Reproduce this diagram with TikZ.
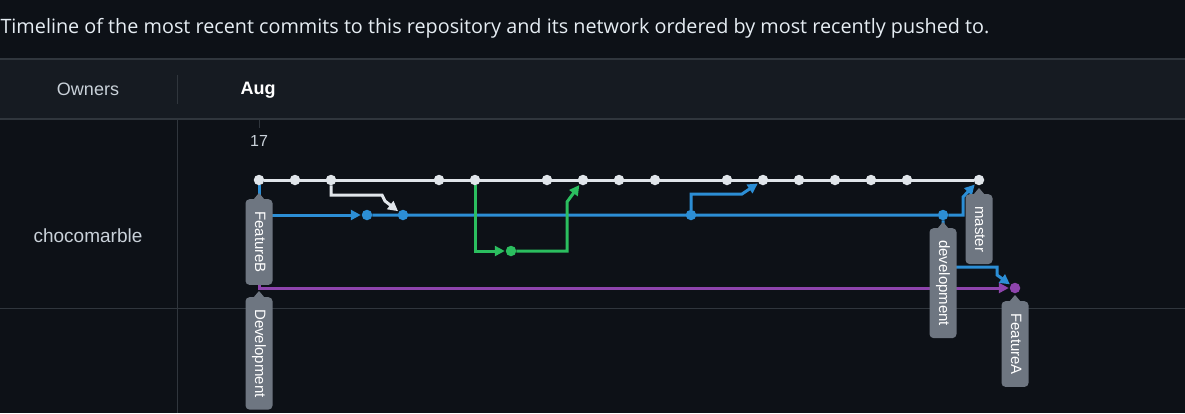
\documentclass[tikz,border=0pt]{standalone}
\usepackage{fontspec}
\setmainfont{Liberation Sans}
\newfontfamily\titlefont{Open Sans}
\usetikzlibrary{arrows.meta,positioning,calc}
\definecolor{ghBack}{RGB}{13,17,23}
\definecolor{ghHead}{RGB}{22,27,34}
\definecolor{ghBorder}{RGB}{48,54,61}
\definecolor{ghText}{RGB}{230,237,243}
\definecolor{ghMuted}{RGB}{201,209,217}
\definecolor{ghWhite}{RGB}{224,229,234}
\definecolor{ghBlue}{RGB}{44,142,213}
\definecolor{ghGreen}{RGB}{43,190,95}
\definecolor{ghPurple}{RGB}{142,68,173}
\definecolor{ghLabel}{RGB}{110,118,129}
\pgfdeclarelayer{panel}
\pgfdeclarelayer{lines}
\pgfsetlayers{panel,lines,main}
\newcommand\labelpointer[1]{%
  \fill[ghLabel] ($(#1.west)+(-6,1)$) -- ($(#1.west)+(0,-6)$) -- ($(#1.west)+(6,1)$) -- cycle;}

\begin{document}
\begin{tikzpicture}[x=1pt,y=-1pt,
  dot/.style={circle,inner sep=0pt,outer sep=0pt,minimum size=10.5pt},
  wdot/.style={dot,fill=ghWhite},
  bdot/.style={dot,fill=ghBlue},
  gdot/.style={dot,fill=ghGreen},
  pdot/.style={dot,fill=ghPurple},
  branch/.style={line width=3pt},
  tip/.style={-{Triangle[length=10pt,width=10pt]},shorten >=1pt},
  headtext/.style={text=ghMuted,font=\fontsize{18}{20}\selectfont},
  reflabel/.style={fill=ghLabel,text=white,rounded corners=4pt,rotate=-90,anchor=west,
    minimum height=27pt,inner xsep=12pt,inner ysep=0pt,text height=11pt,text depth=3pt,
    font=\fontsize{15}{15}\selectfont}]
  \useasboundingbox (0,0) rectangle (1185,413);
  \begin{pgfonlayer}{panel}
    \fill[ghBack] (0,0) rectangle (1185,413);
    \fill[ghHead] (0,59) rectangle (1185,119);
    \draw[ghBorder,line width=1.5pt] (0,59) -- (1185,59) (0,119) -- (1185,119);
    \draw[ghBorder,line width=1pt] (177,75) -- (177,104) (177,119) -- (177,413)
      (0,308) -- (1185,308) (259,119) -- (259,128);
  \end{pgfonlayer}

  \node[anchor=west,text=ghText,font=\titlefont\fontsize{19.8}{22}\selectfont] (title) at (-3,28)
    {Timeline of the most recent commits to this repository and its network ordered by most recently pushed to.};
  \node[headtext] (owners) at (88,89) {Owners};
  \node[headtext,text=white,font=\fontsize{18}{20}\selectfont\bfseries] (aug) at (258,90) {Aug};
  \node[headtext,font=\fontsize{16}{18}\selectfont] (day) at (259,141) {17};
  \node[headtext,font=\fontsize{19}{21}\selectfont] (owner) at (88,236) {chocomarble};

  % commits
  \foreach \k in {0,1,2,5,6,8,9,10,11,13,14,15,16,17,18,20}
    \node[wdot] (w\k) at (259+36*\k,180) {};
  \foreach \k in {3,4,12,19}
    \node[bdot] (b\k) at (259+36*\k,215) {};
  \node[gdot] (g7) at (511,251) {};
  \node[pdot] (p21) at (1015,288) {};

  \begin{pgfonlayer}{lines}
    \draw[branch,ghWhite] (w0) -- (w20);
    \draw[branch,ghPurple,tip] (w0) |- (p21);
    \draw[branch,ghBlue,tip] (w0) |- (b3);
    \draw[branch,ghBlue,tip] (b3) -- (b19) -- ++(20,0) -- ++(0,-18) -- (w20);
    \draw[branch,ghBlue,tip] (b19) -- ++(0,52) -- ++(54,0) -- ++(0,8) -- (p21);
    \draw[branch,ghBlue,tip] (b12) -- ++(0,-21) -- ++(51,0) -- (w14);
    \draw[branch,ghWhite,tip] (w2) -- ++(0,15) -- ++(51,0) -- ++(3,6) -- (b4);
    \draw[branch,ghGreen,tip] (w6) |- (g7);
    \draw[branch,ghGreen,tip] (g7) -- ++(56,0) -- ++(0,-49) -- (w9);
  \end{pgfonlayer}

  % branch labels
  \node[reflabel] (featb) at (259,199) {FeatureB};
  \node[reflabel] (devup) at (259,297) {Development};
  \node[reflabel] (devlow) at (943,228) {development};
  \node[reflabel] (master) at (979,194) {master};
  \node[reflabel] (feata) at (1015,301) {FeatureA};
  \foreach \l in {featb,devup,devlow,master,feata}{
    \labelpointer{\l}
  }
\end{tikzpicture}
\end{document}
